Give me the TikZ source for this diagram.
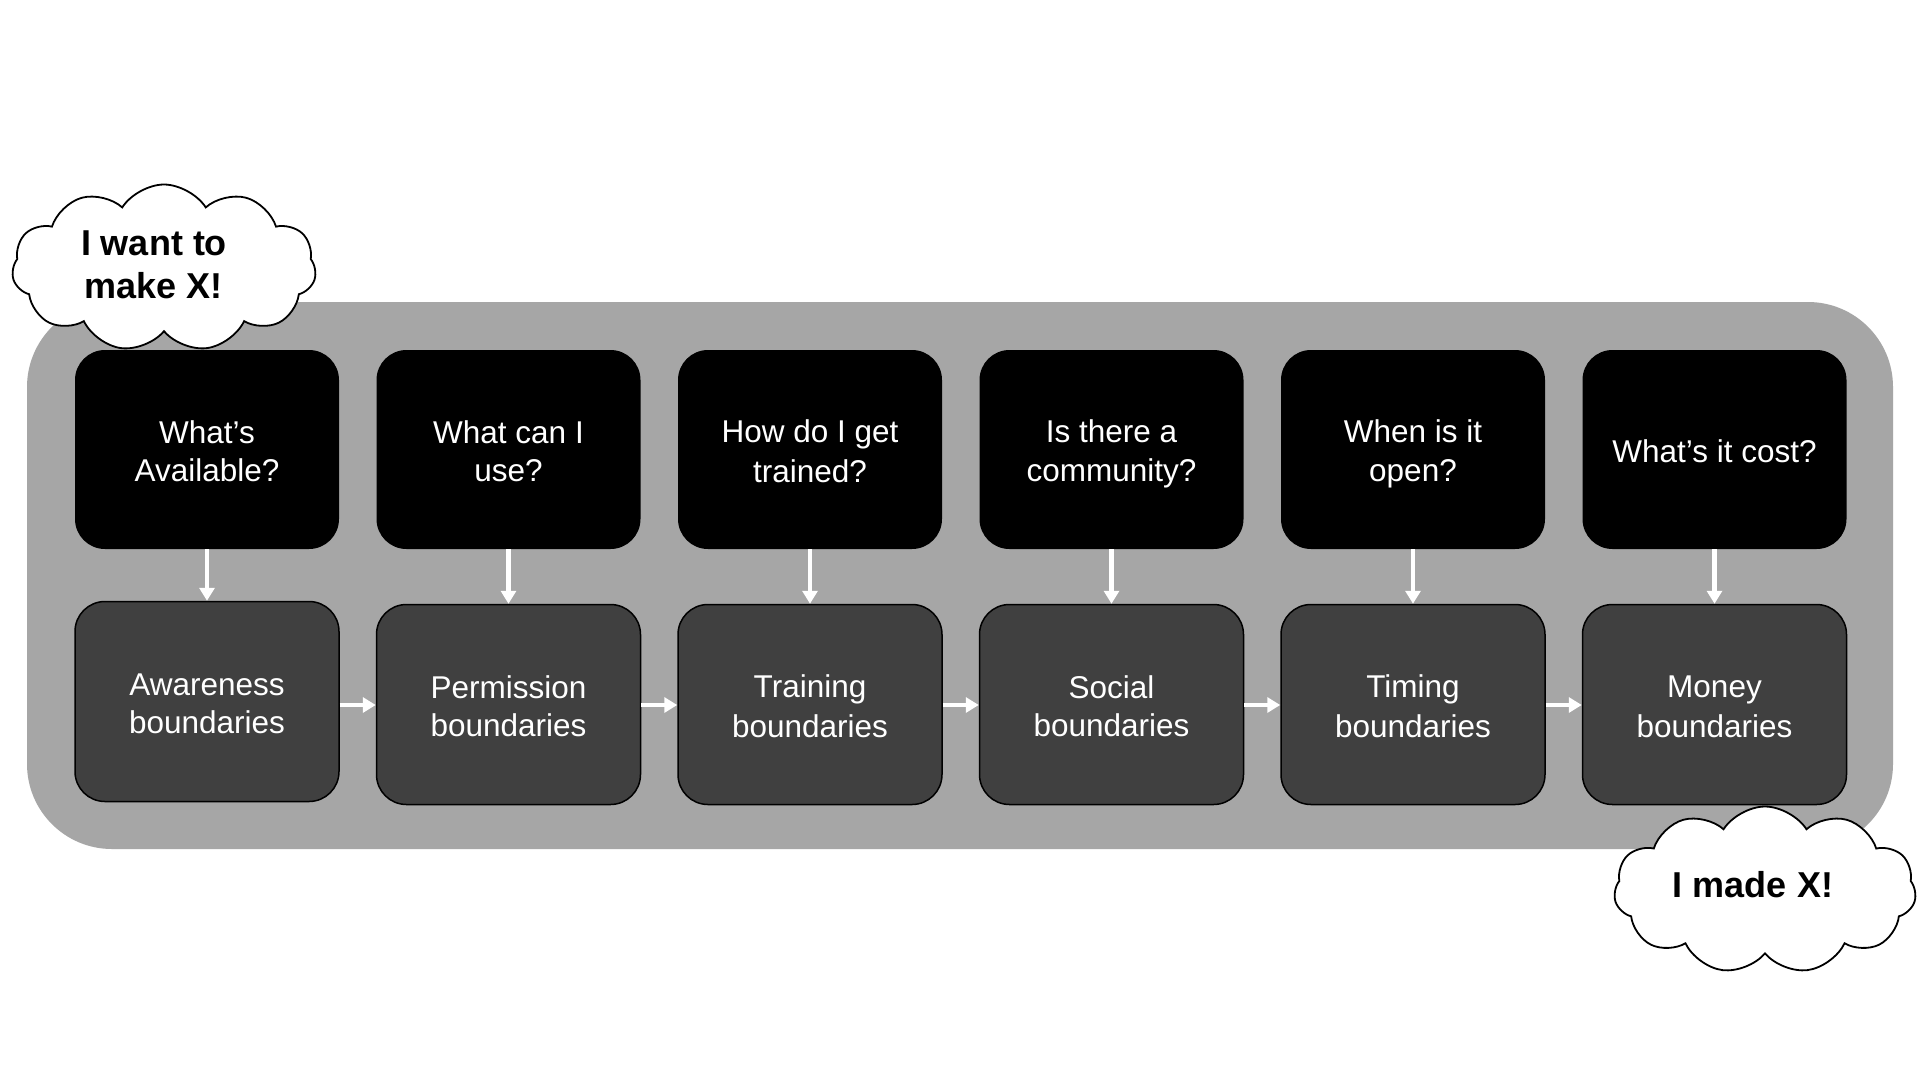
\documentclass[tikz,border=0pt]{standalone}
\usepackage{fontspec}
\setmainfont{Liberation Sans}
\usetikzlibrary{shapes.symbols,arrows.meta}
\definecolor{bggray}{HTML}{A6A6A6}
\definecolor{dkgray}{HTML}{404040}
\newcommand\lnstrut{\rule[-6.5pt]{0pt}{38.5pt}}
\tikzset{
  qbox/.style={rounded corners=30pt, fill=black, draw=none, minimum width=264pt, minimum height=199pt,
    text=white, align=center, font=\fontsize{31.5}{38.5}\selectfont, inner sep=0pt},
  bbox/.style={rounded corners=30pt, fill=dkgray, draw=black, line width=1.5pt, minimum width=264pt, minimum height=200pt,
    text=white, align=center, font=\fontsize{31.5}{38.5}\selectfont, inner sep=0pt},
  warrow/.style={draw=white, line width=4.5pt, -{Triangle[length=13pt,width=15pt]}},
  thought/.style={cloud, cloud puffs=11, cloud puff arc=115, draw=black, fill=white, line width=1.8pt,
    aspect=1.8, inner sep=0pt},
  cloudtext/.style={align=center, font=\bfseries\fontsize{36}{43}\selectfont, inner sep=0pt}
}
\begin{document}
\begin{tikzpicture}[x=1pt,y=-1pt]
\useasboundingbox (0,0) rectangle (1920,1080);
\fill[white] (0,0) rectangle (1920,1080);
\node[fill=bggray, rounded corners=85pt, minimum width=1866pt, minimum height=547pt, inner sep=0pt] (bg) at (960,575.5) {};
% top boxes
\node[qbox] (q1) at (207,449.5) {What’s\lnstrut\\Available?\lnstrut};
\node[qbox] (q2) at (508.5,449.5) {What can I\lnstrut\\use?\lnstrut};
\node[qbox] (q3) at (810,449.5) {How do I get\lnstrut\\trained?\lnstrut};
\node[qbox] (q4) at (1111.5,449.5) {Is there a\lnstrut\\community?\lnstrut};
\node[qbox] (q5) at (1413,449.5) {When is it\lnstrut\\open?\lnstrut};
\node[qbox] (q6) at (1714.5,449.5) {What’s it cost?\lnstrut};
% bottom boxes
\node[bbox] (b1) at (207,701.5) {Awareness\lnstrut\\boundaries\lnstrut};
\node[bbox] (b2) at (508.5,704.5) {Permission\lnstrut\\boundaries\lnstrut};
\node[bbox] (b3) at (810,704.5) {Training\lnstrut\\boundaries\lnstrut};
\node[bbox] (b4) at (1111.5,704.5) {Social\lnstrut\\boundaries\lnstrut};
\node[bbox] (b5) at (1413,704.5) {Timing\lnstrut\\boundaries\lnstrut};
\node[bbox] (b6) at (1714.5,704.5) {Money\lnstrut\\boundaries\lnstrut};
% vertical arrows
\foreach \i in {1,...,6} {
  \draw[warrow] (q\i.south) -- (b\i.north);
}
% horizontal arrows
\foreach \i/\j in {1/2,2/3,3/4,4/5,5/6} {
  \draw[warrow] (b\i.east |- 0,705) -- (b\j.west |- 0,705);
}
% clouds
\node[thought, minimum width=304pt, minimum height=167pt] (c1) at (164,268) {};
\node[cloudtext] (t1) at (154,265) {I want to\\make X!};
\node[thought, minimum width=302pt, minimum height=167pt] (c2) at (1765,890) {};
\node[cloudtext] (t2) at (1753,885) {I made X!};
\end{tikzpicture}
\end{document}
